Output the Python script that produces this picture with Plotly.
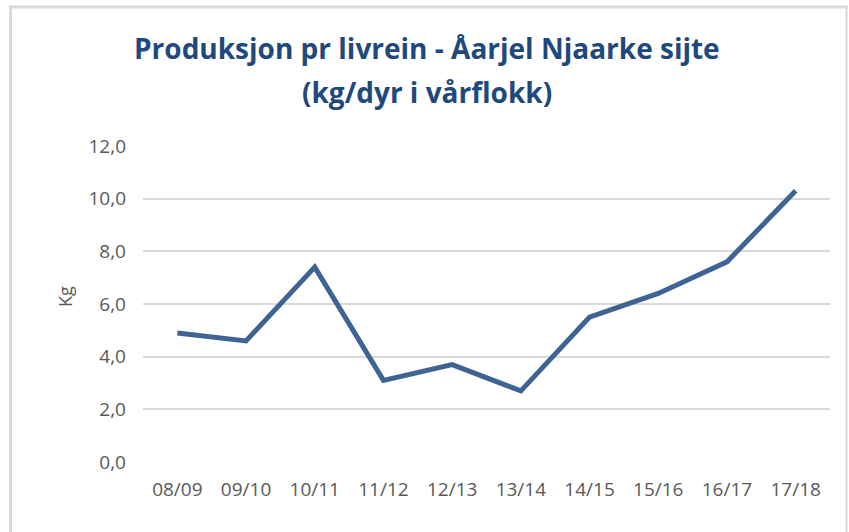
import plotly.graph_objects as go

seasons = ["08/09", "09/10", "10/11", "11/12", "12/13", "13/14", "14/15", "15/16", "16/17", "17/18"]
kg_per_animal = [4.9, 4.6, 7.4, 3.1, 3.7, 2.7, 5.5, 6.4, 7.6, 10.3]
y_ticks = [0, 2, 4, 6, 8, 10, 12]
y_tick_labels = ["0,0", "2,0", "4,0", "6,0", "8,0", "10,0", "12,0"]
title_lines = ["Produksjon pr livrein - Åarjel Njaarke sijte", "(kg/dyr i vårflokk)"]

W, H = 849, 532
L, R, T, B = 143, 19, 146, 70
pw, ph = W - L - R, H - T - B

def px(x):
    return (x - L) / pw

def py(y):
    return (H - B - y) / ph

FONT = "Open Sans"
TICK = "#595959"
GRID = "#D9D9D9"

fig = go.Figure()
fig.add_trace(go.Scatter(
    x=seasons, y=kg_per_animal, mode="lines",
    line=dict(color="#3D6493", width=5),
    hoverinfo="x+y",
))

annotations = [
    dict(text=f"<b>{title_lines[0]}</b>", xref="paper", yref="paper",
         x=px(427), y=py(48), xanchor="center", yanchor="middle", showarrow=False,
         font=dict(family=FONT, size=28, color="#1F497D")),
    dict(text=f"<b>{title_lines[1]}</b>", xref="paper", yref="paper",
         x=px(427), y=py(92), xanchor="center", yanchor="middle", showarrow=False,
         font=dict(family=FONT, size=28, color="#1F497D")),
    dict(text="Kg", xref="paper", yref="paper", x=px(65), y=py(297),
         xanchor="center", yanchor="middle", textangle=-90, showarrow=False,
         font=dict(family=FONT, size=18, color=TICK)),
]

fig.update_layout(
    width=W, height=H,
    margin=dict(l=L, r=R, t=T, b=B),
    paper_bgcolor="white", plot_bgcolor="white",
    showlegend=False,
    annotations=annotations,
    xaxis=dict(
        type="category", showgrid=False, zeroline=False, showline=False,
        ticks="", ticklabelstandoff=14,
        tickfont=dict(family=FONT, size=19, color=TICK),
        range=[-0.5, len(seasons) - 0.5], fixedrange=True,
    ),
    yaxis=dict(
        range=[0, 12], tickvals=y_ticks, ticktext=y_tick_labels,
        showgrid=True, gridcolor=GRID, gridwidth=2,
        zeroline=False, showline=False, ticks="", ticklabelstandoff=16,
        tickfont=dict(family=FONT, size=19, color=TICK),
        fixedrange=True,
    ),
    shapes=[
        dict(type="line", xref="paper", yref="paper", x0=px(9), x1=px(848), y0=py(7), y1=py(7),
             line=dict(color=GRID, width=3)),
        dict(type="line", xref="paper", yref="paper", x0=px(10.5), x1=px(10.5), y0=py(6), y1=py(H),
             line=dict(color=GRID, width=3)),
        dict(type="line", xref="paper", yref="paper", x0=px(846.5), x1=px(846.5), y0=py(6), y1=py(H),
             line=dict(color=GRID, width=2)),
    ],
)

fig.write_html("out.html", config={"displayModeBar": False},
               post_script="document.body.style.margin='0';")
